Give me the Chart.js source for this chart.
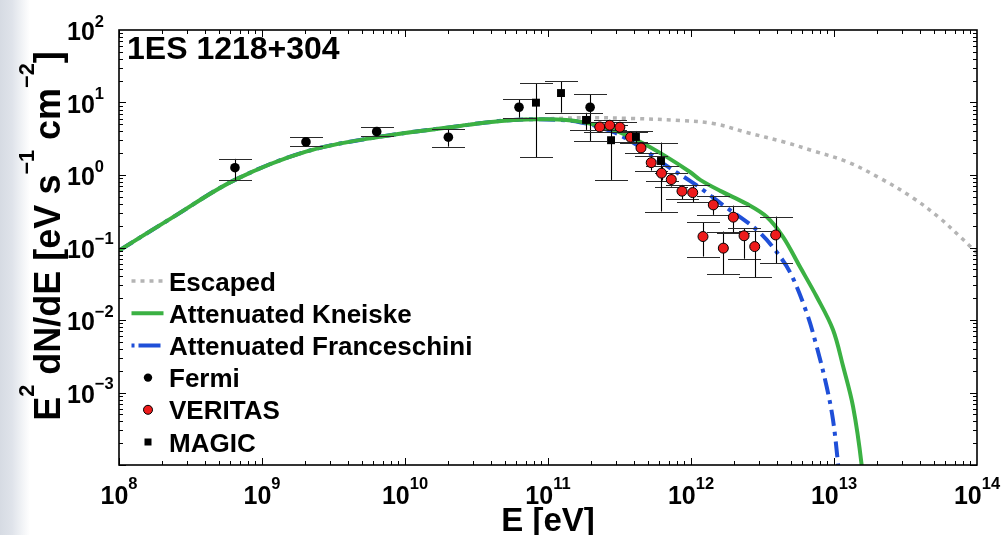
<!DOCTYPE html>
<html><head><meta charset="utf-8">
<style>
html,body{margin:0;padding:0;width:1001px;height:535px;overflow:hidden;}
body{background:linear-gradient(to right,#d6dbe3 0px,#dfe3ea 12px,#f1f3f6 22px,#ffffff 30px);}
#wrap{position:relative;width:1001px;height:535px;}
</style>
<script src="https://cdn.jsdelivr.net/npm/chart.js@4.4.1/dist/chart.umd.min.js"></script>
</head><body><div id="wrap"><canvas id="c" width="1001" height="535"></canvas></div>
<script>
// ---------- data ----------
const titleText = '1ES 1218+304';
const xTickExps = [8, 9, 10, 11, 12, 13, 14];
const yTickExps = [2, 1, 0, -1, -2, -3];
const legendLabels = ['Escaped', 'Attenuated Kneiske', 'Attenuated Franceschini', 'Fermi', 'VERITAS', 'MAGIC'];

const fermiE  = [6.47e8, 2.03e9, 6.34e9, 2.01e10, 6.27e10, 1.97e11];
const fermiF  = [1.26, 2.86, 3.96, 3.32, 8.6, 8.6];
const fermiHi = [1.67, 3.32, 4.6, 4.32, 11.1, 13.0];
const fermiLo = [0.855, 2.49, 3.46, 2.46, 6.18, 2.95];

const magicE  = [8.24e10, 1.233e11, 1.845e11, 2.76e11, 4.12e11, 6.17e11];
const magicF  = [9.95, 13.5, 5.75, 3.02, 3.35, 1.56];
const magicHi = [18.4, 19.8, 7.2, 4.9, 4.05, 2.8];
const magicLo = [1.76, 7.24, 4.19, 0.855, 2.77, 0.313];

const veritasE  = [2.30e11, 2.70e11, 3.18e11, 3.78e11, 4.47e11, 5.27e11, 6.22e11, 7.28e11, 8.65e11, 1.028e12, 1.213e12, 1.432e12, 1.683e12, 1.977e12, 2.35e12, 2.79e12, 3.91e12];
const veritasF  = [4.6, 4.86, 4.56, 3.32, 2.36, 1.48, 1.06, 0.865, 0.598, 0.572, 0.1416, 0.387, 0.098, 0.262, 0.145, 0.103, 0.149];
const veritasHi = [5.4, 5.7, 5.35, 3.9, 2.76, 1.85, 1.31, 1.06, 0.73, 0.73, 0.223, 0.52, 0.166, 0.378, 0.185, 0.170, 0.267];
const veritasLo = [3.9, 4.15, 3.9, 2.85, 2.0, 1.15, 0.838, 0.69, 0.464, 0.425, 0.075, 0.282, 0.043, 0.161, 0.070, 0.039, 0.061];

const kneiskeE = [1e8, 2.28e8, 6.47e8, 2.03e9, 6.34e9, 2.43e10, 3.34e10, 5.69e10, 9.79e10, 1.67e11, 2.85e11, 4.40e11, 6.76e11, 9.84e11, 1.16e12, 1.60e12, 2.45e12, 3.38e12, 4.40e12, 5.78e12, 7.57e12, 9.84e12, 1.16e13, 1.36e13, 1.56e13, 1.68e13];
const kneiskeF = [0.0908, 0.248, 0.856, 2.10, 3.32, 4.75, 5.18, 5.75, 5.87, 5.45, 4.19, 2.88, 1.78, 1.10, 0.856, 0.604, 0.400, 0.265, 0.140, 0.0541, 0.0209, 0.00733, 0.00226, 0.000635, 0.000101, 0.0000178];

const francE = [1e8, 2.28e8, 6.47e8, 2.03e9, 6.34e9, 2.43e10, 3.34e10, 5.69e10, 9.79e10, 1.67e11, 2.85e11, 4.40e11, 6.76e11, 9.84e11, 1.16e12, 1.78e12, 2.455e12, 3.04e12, 3.77e12, 4.91e12, 6.44e12, 7.57e12, 8.89e12, 9.84e12, 1.065e13, 1.117e13];
const francF = [0.0908, 0.248, 0.856, 2.10, 3.32, 4.75, 5.18, 5.75, 5.84, 5.35, 3.93, 2.44, 1.335, 0.829, 0.664, 0.352, 0.2257, 0.159, 0.0989, 0.0461, 0.01256, 0.00428, 0.0012, 0.00042, 0.000108, 0.0000389];

const escE = [1e8, 2.28e8, 6.47e8, 2.03e9, 6.34e9, 2.43e10, 3.34e10, 5.69e10, 9.79e10, 1.97e11, 3.74e11, 8.37e11, 1.43e12, 2.455e12, 4.54e12, 7.16e12, 1.227e13, 2.10e13, 3.59e13, 5.51e13, 7.60e13, 1e14];
const escF = [0.0908, 0.248, 0.856, 2.10, 3.32, 4.75, 5.18, 5.75, 5.95, 6.18, 6.03, 5.66, 5.14, 3.86, 2.83, 2.15, 1.53, 0.904, 0.479, 0.253, 0.1414, 0.0843];

// ---------- styling ----------
const FONT = '"Liberation Sans", Arial, Helvetica, sans-serif';
const C_GREEN = '#3bb143', C_BLUE = '#1f4fd8', C_GRAY = '#b4b4b4', C_RED = '#ee1c1c';
const DASH_GRAY = [4, 5], DASH_BLUE = [16, 6, 4, 6];

const pts = (xs, ys) => xs.map((x, i) => ({x: x, y: ys[i]}));

function drawSup(ctx, parts, x, y, size, supScale, supRise, align) {
  const widths = parts.map(p => {
    ctx.font = 'bold ' + (p[1] ? size * supScale : size) + 'px ' + FONT;
    return ctx.measureText(p[0]).width;
  });
  const total = widths.reduce((a, b) => a + b, 0);
  let cx = align === 'center' ? x - total / 2 : (align === 'right' ? x - total : x);
  ctx.textAlign = 'left';
  ctx.textBaseline = 'alphabetic';
  parts.forEach((p, i) => {
    ctx.font = 'bold ' + (p[1] ? size * supScale : size) + 'px ' + FONT;
    ctx.fillText(p[0], cx, p[1] ? y - supRise : y);
    cx += widths[i];
  });
}
const expStr = e => (e < 0 ? '\u2212' + Math.abs(e) : String(e));

function drawErrorBars(chart) {
  const ctx = chart.ctx, xs = chart.scales.x, ys = chart.scales.y;
  const sets = [[fermiE, fermiHi, fermiLo], [veritasE, veritasHi, veritasLo], [magicE, magicHi, magicLo]];
  const cap = 16.5;
  ctx.save();
  ctx.beginPath();
  ctx.rect(chart.chartArea.left, chart.chartArea.top, chart.chartArea.width, chart.chartArea.height);
  ctx.clip();
  sets.forEach(s => {
    s[0].forEach((e, i) => {
      const px = Math.round(xs.getPixelForValue(e)) + 0.5;
      const yh = ys.getPixelForValue(s[1][i]);
      const yl = ys.getPixelForValue(s[2][i]);
      ctx.strokeStyle = '#000';
      ctx.lineWidth = 1.1;
      ctx.beginPath(); ctx.moveTo(px, yh); ctx.lineTo(px, yl); ctx.stroke();
      ctx.strokeStyle = '#2a2a2a';
      ctx.beginPath();
      ctx.moveTo(px - cap, Math.round(yh) + 0.5); ctx.lineTo(px + cap, Math.round(yh) + 0.5);
      ctx.moveTo(px - cap, Math.round(yl) + 0.5); ctx.lineTo(px + cap, Math.round(yl) + 0.5);
      ctx.stroke();
    });
  });
  ctx.restore();
}

const decor = {
  id: 'decor',
  beforeDatasetDraw(chart, args) {
    if (chart.data.datasets[args.index].errFirst) drawErrorBars(chart);
  },
  afterDraw(chart) {
    const ctx = chart.ctx, a = chart.chartArea, xs = chart.scales.x, ys = chart.scales.y;
    ctx.save();
    ctx.strokeStyle = '#000';
    ctx.lineWidth = 1;
    ctx.beginPath();
    for (let d = 8; d < 14; d++) {
      for (let m = 1; m <= 9; m++) {
        const v = m * Math.pow(10, d);
        const px = Math.round(xs.getPixelForValue(v)) + 0.5;
        const len = m === 1 ? 7 : 4;
        ctx.moveTo(px, a.bottom); ctx.lineTo(px, a.bottom - len);
        ctx.moveTo(px, a.top); ctx.lineTo(px, a.top + len);
      }
    }
    for (let d = -4; d < 2; d++) {
      for (let m = 1; m <= 9; m++) {
        const v = m * Math.pow(10, d);
        const py = Math.round(ys.getPixelForValue(v)) + 0.5;
        const len = m === 1 ? 7 : 4;
        ctx.moveTo(a.left, py); ctx.lineTo(a.left + len, py);
        ctx.moveTo(a.right, py); ctx.lineTo(a.right - len, py);
      }
    }
    ctx.stroke();
    ctx.lineWidth = 1.6;
    ctx.strokeRect(a.left, a.top, a.right - a.left, a.bottom - a.top);

    ctx.fillStyle = '#000';
    xTickExps.forEach(e => {
      const px = xs.getPixelForValue(Math.pow(10, e));
      drawSup(ctx, [['10', 0], [expStr(e), 1]], px, 504, 25, 0.66, 15, 'center');
    });
    yTickExps.forEach(e => {
      const py = ys.getPixelForValue(Math.pow(10, e));
      drawSup(ctx, [['10', 0], [expStr(e), 1]], 67, py + 10, 25, 0.66, 13.5, 'left');
    });
    drawSup(ctx, [['E [eV]', 0]], (a.left + a.right) / 2, 531, 33, 1, 0, 'center');
    ctx.save();
    ctx.translate(60, 236);
    ctx.rotate(-Math.PI / 2);
    drawSup(ctx, [['E', 0], ['2', 1], [' dN/dE [eV s', 0], ['\u22121', 1], [' cm', 0], ['\u22122', 1], [']', 0]], 0, 0, 36, 0.6, 26, 'center');
    ctx.restore();
    ctx.font = 'bold 32px ' + FONT;
    ctx.textAlign = 'left';
    ctx.fillText(titleText, 127, 59);

    const x0 = 131.5, x1 = 163.5, tx = 169, top = 281, step = 32.2;
    legendLabels.forEach((lab, i) => {
      const y = top + i * step;
      ctx.save();
      if (i === 0) { ctx.strokeStyle = C_GRAY; ctx.lineWidth = 3.5; ctx.setLineDash(DASH_GRAY); }
      if (i === 1) { ctx.strokeStyle = C_GREEN; ctx.lineWidth = 4; }
      if (i === 2) { ctx.strokeStyle = C_BLUE; ctx.lineWidth = 4; ctx.setLineDash([3, 4, 22, 4]); }
      if (i <= 2) {
        ctx.beginPath(); ctx.moveTo(x0, y); ctx.lineTo(x1, y); ctx.stroke();
      } else if (i === 3) {
        ctx.fillStyle = '#000'; ctx.beginPath(); ctx.arc(148, y, 4.2, 0, 2 * Math.PI); ctx.fill();
      } else if (i === 4) {
        ctx.fillStyle = C_RED; ctx.strokeStyle = '#000'; ctx.lineWidth = 1;
        ctx.beginPath(); ctx.arc(148, y, 4.5, 0, 2 * Math.PI); ctx.fill(); ctx.stroke();
      } else {
        ctx.fillStyle = '#000'; ctx.fillRect(144.5, y - 3.5, 7, 7);
      }
      ctx.restore();
      ctx.fillStyle = '#000';
      ctx.font = 'bold 26px ' + FONT;
      ctx.textAlign = 'left';
      ctx.textBaseline = 'alphabetic';
      ctx.fillText(lab, tx, y + 9.5);
    });
    ctx.restore();
  }
};

new Chart(document.getElementById('c'), {
  type: 'scatter',
  data: {
    datasets: [
      { label: 'MAGIC', data: pts(magicE, magicF), order: 0, pointStyle: 'rect', pointRadius: 5.6,
        pointBackgroundColor: '#000', pointBorderColor: '#000', pointBorderWidth: 0, showLine: false },
      { label: 'VERITAS', data: pts(veritasE, veritasF), order: 1, pointStyle: 'circle', pointRadius: 5,
        pointBackgroundColor: C_RED, pointBorderColor: '#000', pointBorderWidth: 1, showLine: false },
      { label: 'Fermi', data: pts(fermiE, fermiF), order: 2, pointStyle: 'circle', pointRadius: 4.8,
        pointBackgroundColor: '#000', pointBorderColor: '#000', pointBorderWidth: 0, showLine: false, errFirst: true },
      { label: 'Attenuated Kneiske', data: pts(kneiskeE, kneiskeF), order: 3, showLine: true, pointRadius: 0,
        borderColor: C_GREEN, borderWidth: 4, tension: 0.35 },
      { label: 'Attenuated Franceschini', data: pts(francE, francF), order: 4, showLine: true, pointRadius: 0,
        borderColor: C_BLUE, borderWidth: 4, borderDash: DASH_BLUE, tension: 0.35 },
      { label: 'Escaped', data: pts(escE, escF), order: 5, showLine: true, pointRadius: 0,
        borderColor: C_GRAY, borderWidth: 3.5, borderDash: DASH_GRAY, tension: 0.35 }
    ]
  },
  options: {
    responsive: false,
    animation: false,
    devicePixelRatio: 1,
    layout: { padding: { left: 119, right: 24, top: 30, bottom: 70 } },
    plugins: { legend: { display: false }, tooltip: { enabled: false }, title: { display: false } },
    scales: {
      x: { type: 'logarithmic', min: 1e8, max: 1e14, display: false },
      y: { type: 'logarithmic', min: 1e-4, max: 1e2, display: false }
    }
  },
  plugins: [decor]
});
</script>
</body></html>
